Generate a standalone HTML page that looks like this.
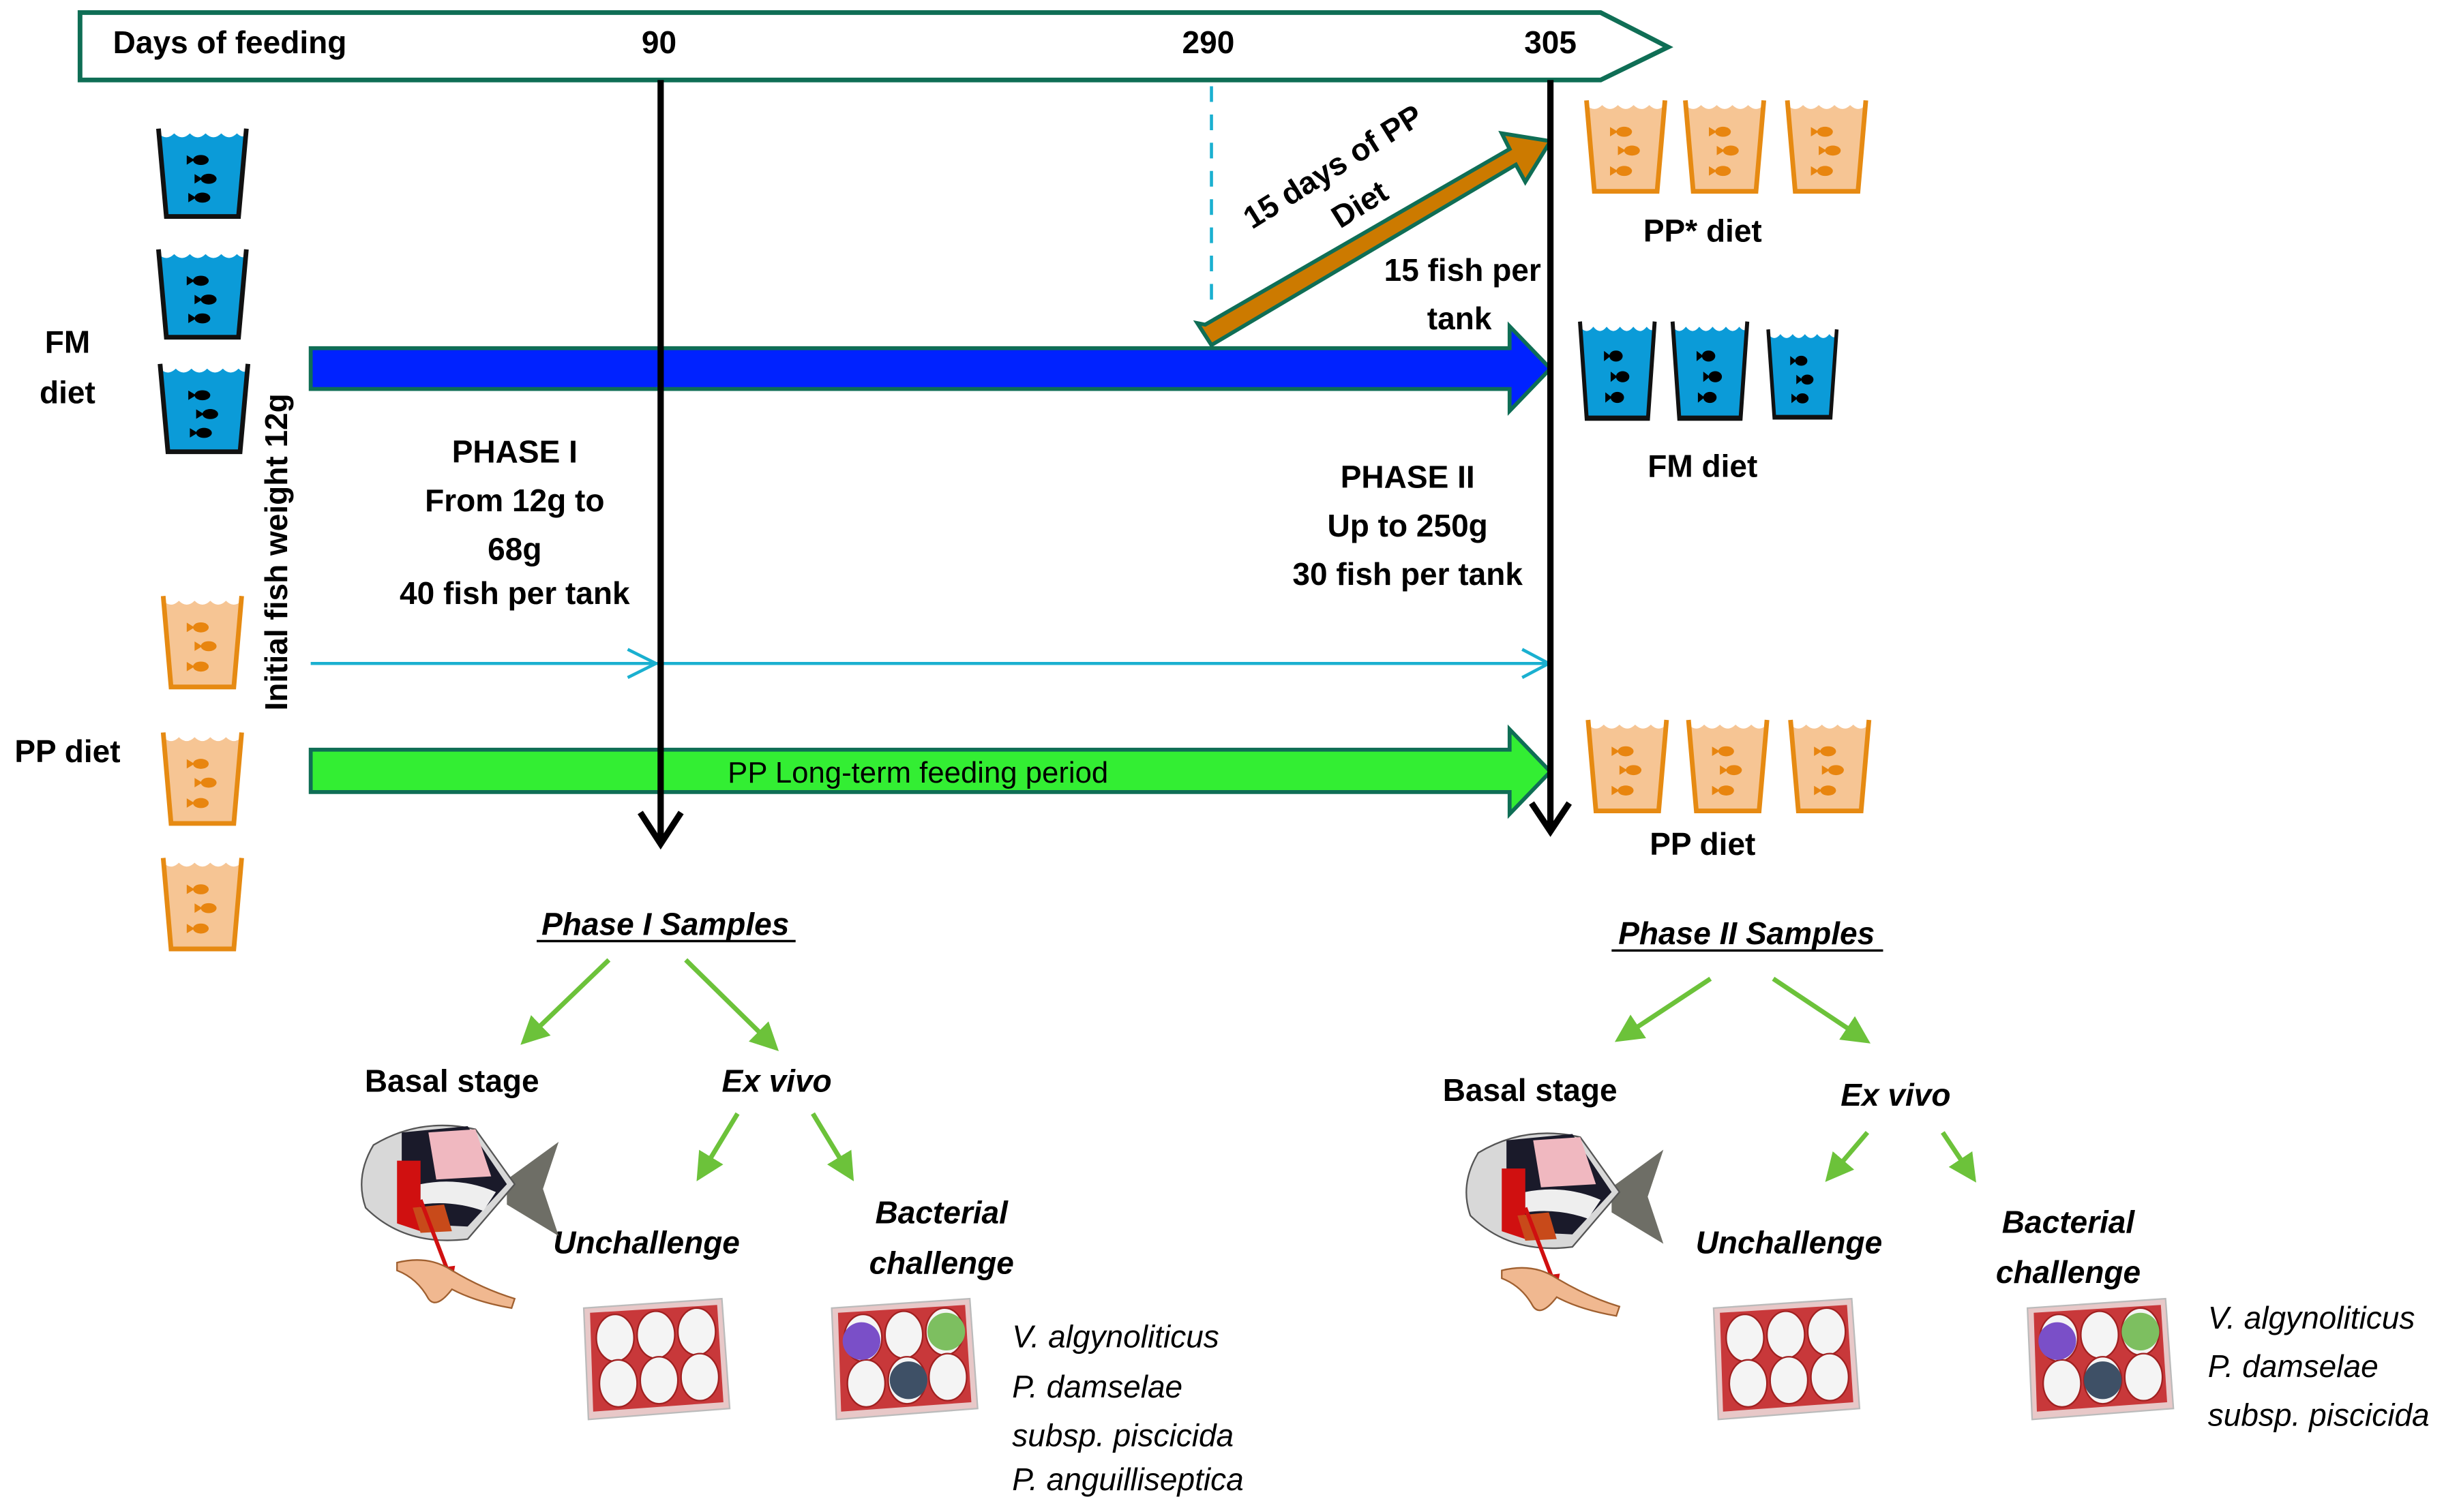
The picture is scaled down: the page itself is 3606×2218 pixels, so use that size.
<!DOCTYPE html>
<html><head><meta charset="utf-8"><style>html,body{margin:0;padding:0;background:#fff}svg{display:block}</style></head>
<body>
<svg width="3606" height="2218" viewBox="0 0 1567 964" preserveAspectRatio="none" xmlns="http://www.w3.org/2000/svg" font-family="Liberation Sans, sans-serif" font-weight="bold">
<defs>
<g id="fb"><ellipse cx="0" cy="0" rx="5" ry="3.2" fill="#000"/><polygon points="-4,0 -9,-3 -9,3" fill="#000"/></g>
<g id="fo"><ellipse cx="0" cy="0" rx="5" ry="3.2" fill="#e8850f"/><polygon points="-4,0 -9,-3 -9,3" fill="#e8850f"/></g>
<g id="tb">
<polygon points="1,3 57,3 52,56 6,56" fill="#0b9bd8"/>
<path d="M1,3 q5,5 10,0 q5,5 10,0 q5,5 10,0 q5,5 10,0 q5,5 10,0 q4,4 7,0 L57,0 L1,0Z" fill="#fff"/>
<polyline points="1,0 6,56 52,56 57,0" fill="none" stroke="#111" stroke-width="3"/>
<use href="#fb" x="28" y="20"/><use href="#fb" x="33" y="32"/><use href="#fb" x="29" y="44"/>
</g>
<g id="to">
<polygon points="1,3 51,3 46,58 6,58" fill="#f6c594"/>
<path d="M1,3 q5,5 10,0 q5,5 10,0 q5,5 10,0 q5,5 10,0 q5,5 10,0 L51,0 L1,0Z" fill="#fff"/>
<polyline points="1,0 6,58 46,58 51,0" fill="none" stroke="#e68a12" stroke-width="3"/>
<use href="#fo" x="25" y="20"/><use href="#fo" x="30" y="32"/><use href="#fo" x="25" y="45"/>
</g>
<g id="plate">
<polygon points="0,6 88,0 93,70 3,77" fill="#e8c8c8" stroke="#bbb"/>
<polygon points="4,9 85,4 89,66 6,72" fill="#c8383a"/>
<ellipse cx="20" cy="25" rx="12" ry="15" fill="#f4f4f4" stroke="#a02020"/>
<ellipse cx="46" cy="23" rx="12" ry="15" fill="#f4f4f4" stroke="#a02020"/>
<ellipse cx="72" cy="21" rx="12" ry="15" fill="#f4f4f4" stroke="#a02020"/>
<ellipse cx="22" cy="54" rx="12" ry="15" fill="#f4f4f4" stroke="#a02020"/>
<ellipse cx="48" cy="52" rx="12" ry="15" fill="#f4f4f4" stroke="#a02020"/>
<ellipse cx="74" cy="50" rx="12" ry="15" fill="#f4f4f4" stroke="#a02020"/>
</g>
<g id="fish">
<polygon points="95,42 128,18 118,48 128,78 95,58" fill="#6e6e66"/>
<path d="M10,20 Q40,2 75,10 L100,45 L70,80 Q30,85 5,60 Q-2,40 10,20Z" fill="#d8d8d8" stroke="#555"/>
<path d="M28,12 L70,8 L95,45 L70,72 L28,70Z" fill="#1a1a2a"/>
<path d="M45,12 L75,10 L85,40 L50,42Z" fill="#f0b8c0"/>
<path d="M25,30 L40,30 L40,75 L25,70Z" fill="#d01010"/>
<path d="M40,45 Q65,40 88,50 L80,62 Q60,55 40,58Z" fill="#eee"/>
<path d="M35,60 L55,58 L60,75 L40,76Z" fill="#c84a1a"/>
<line x1="40" y1="55" x2="58" y2="102" stroke="#d01010" stroke-width="2.5"/>
<polygon points="54,98 62,97 60,108" fill="#d01010"/>
<path d="M25,95 Q45,90 60,100 Q80,112 100,118 L98,124 Q75,120 60,112 Q50,125 45,118 Q38,105 25,100Z" fill="#f0b890" stroke="#a06030"/>
</g>
<marker id="ga" markerWidth="6" markerHeight="6" refX="4" refY="3" orient="auto" markerUnits="strokeWidth"><polygon points="0,0 6,3 0,6" fill="#6cc23a"/></marker>
</defs>

<polygon points="51,8 1020,8 1063,30 1020,51 51,51" fill="#fff" stroke="#0f6e55" stroke-width="3"/>
<text x="72" y="34" font-size="20">Days of feeding</text>
<text x="420" y="34" font-size="20" text-anchor="middle">90</text>
<text x="770" y="34" font-size="20" text-anchor="middle">290</text>
<text x="988" y="34" font-size="20" text-anchor="middle">305</text>

<line x1="772" y1="55" x2="772" y2="195" stroke="#1ab0d0" stroke-width="2" stroke-dasharray="10,8"/>

<polygon points="763,206 772,220 966,105 972,116 988,90 957,85 962,95 768,207" fill="#cc7a00" stroke="#0f6e55" stroke-width="2.5" stroke-linejoin="miter"/>

<polygon points="198,222 962,222 962,208 988,235 962,262 962,248 198,248" fill="#0022ff" stroke="#0f6e55" stroke-width="2.5"/>
<polygon points="198,478 962,478 962,465 988,492 962,519 962,505 198,505" fill="#33ee33" stroke="#0f6e55" stroke-width="2.5"/>
<text x="585" y="499" font-size="19" font-weight="normal" text-anchor="middle">PP Long-term feeding period</text>

<line x1="198" y1="423" x2="986" y2="423" stroke="#1ab0d0" stroke-width="2"/>
<polyline points="400,414 418,423 400,432" fill="none" stroke="#1ab0d0" stroke-width="2"/>
<polyline points="970,414 987,423 970,432" fill="none" stroke="#1ab0d0" stroke-width="2"/>

<line x1="421" y1="51" x2="421" y2="536" stroke="#000" stroke-width="4"/>
<polyline points="408,518 421,538 434,518" fill="none" stroke="#000" stroke-width="4"/>
<line x1="988" y1="51" x2="988" y2="528" stroke="#000" stroke-width="4"/>
<polyline points="976,512 988,530 1000,512" fill="none" stroke="#000" stroke-width="4"/>

<use href="#tb" x="100" y="82"/>
<use href="#tb" x="100" y="159"/>
<use href="#tb" x="101" y="232"/>
<use href="#to" x="103" y="380"/>
<use href="#to" x="103" y="467"/>
<use href="#to" x="103" y="547"/>
<use href="#to" x="1010" y="64"/>
<use href="#to" x="1073" y="64"/>
<use href="#to" x="1138" y="64"/>
<use href="#tb" transform="translate(1006,205) scale(0.85,1.1)"/>
<use href="#tb" transform="translate(1065,205) scale(0.85,1.1)"/>
<use href="#tb" transform="translate(1126,210) scale(0.78,1.0)"/>
<use href="#to" x="1011" y="459"/>
<use href="#to" x="1075" y="459"/>
<use href="#to" x="1140" y="459"/>

<g font-size="20">
<text x="43" y="225" text-anchor="middle">FM</text>
<text x="43" y="257" text-anchor="middle">diet</text>
<text x="43" y="486" text-anchor="middle">PP diet</text>
<text transform="translate(183,352) rotate(-90)" text-anchor="middle">Initial fish weight 12g</text>
<text x="328" y="295" text-anchor="middle">PHASE I</text>
<text x="328" y="326" text-anchor="middle">From 12g  to</text>
<text x="328" y="357" text-anchor="middle">68g</text>
<text x="328" y="385" text-anchor="middle">40 fish per tank</text>
<text x="897" y="311" text-anchor="middle">PHASE II</text>
<text x="897" y="342" text-anchor="middle">Up to 250g</text>
<text x="897" y="373" text-anchor="middle">30 fish per tank</text>
<text transform="translate(853,112) rotate(-32)" text-anchor="middle">15 days of PP</text>
<text transform="translate(870,136) rotate(-32)" text-anchor="middle">Diet</text>
<text x="932" y="179" text-anchor="middle">15 fish per</text>
<text x="930" y="210" text-anchor="middle">tank</text>
<text x="1085" y="154" text-anchor="middle">PP* diet</text>
<text x="1085" y="304" text-anchor="middle">FM diet</text>
<text x="1085" y="545" text-anchor="middle">PP diet</text>
</g>

<g font-size="20">
<text x="424" y="596" text-anchor="middle" font-style="italic">Phase I Samples</text>
<line x1="342" y1="600" x2="507" y2="600" stroke="#000" stroke-width="1.5"/>
<text x="1113" y="602" text-anchor="middle" font-style="italic">Phase II Samples</text>
<line x1="1027" y1="606" x2="1200" y2="606" stroke="#000" stroke-width="1.5"/>
<text x="288" y="696" text-anchor="middle">Basal stage</text>
<text x="495" y="696" text-anchor="middle" font-style="italic">Ex vivo</text>
<text x="975" y="702" text-anchor="middle">Basal stage</text>
<text x="1208" y="705" text-anchor="middle" font-style="italic">Ex vivo</text>
<text x="412" y="799" text-anchor="middle" font-style="italic">Unchallenge</text>
<text x="600" y="780" text-anchor="middle" font-style="italic">Bacterial</text>
<text x="600" y="812" text-anchor="middle" font-style="italic">challenge</text>
<text x="1140" y="799" text-anchor="middle" font-style="italic">Unchallenge</text>
<text x="1318" y="786" text-anchor="middle" font-style="italic">Bacterial</text>
<text x="1318" y="818" text-anchor="middle" font-style="italic">challenge</text>
</g>
<g font-size="20" font-weight="normal" font-style="italic">
<text x="645" y="859">V. algynoliticus</text>
<text x="645" y="891">P. damselae</text>
<text x="645" y="922">subsp. piscicida</text>
<text x="645" y="950">P. anguilliseptica</text>
<text x="1407" y="847">V. algynoliticus</text>
<text x="1407" y="878">P. damselae</text>
<text x="1407" y="909">subsp. piscicida</text>
</g>

<g stroke="#6cc23a" stroke-width="3" fill="none" marker-end="url(#ga)">
<line x1="388" y1="612" x2="336" y2="662"/>
<line x1="437" y1="612" x2="492" y2="666"/>
<line x1="1090" y1="624" x2="1034" y2="661"/>
<line x1="1130" y1="624" x2="1187" y2="662"/>
<line x1="470" y1="710" x2="447" y2="748"/>
<line x1="518" y1="710" x2="541" y2="748"/>
<line x1="1190" y1="722" x2="1167" y2="749"/>
<line x1="1238" y1="722" x2="1256" y2="749"/>
</g>

<use href="#fish" transform="translate(228,710)"/>
<use href="#fish" transform="translate(932,715)"/>

<use href="#plate" x="372" y="828"/>
<use href="#plate" x="530" y="828"/>
<circle cx="549" cy="855" r="12" fill="#7a4fc8"/>
<circle cx="603" cy="849" r="12" fill="#7dbf60"/>
<circle cx="579" cy="880" r="12" fill="#3e5066"/>
<use href="#plate" x="1092" y="828"/>
<use href="#plate" x="1292" y="828"/>
<circle cx="1311" cy="855" r="12" fill="#7a4fc8"/>
<circle cx="1364" cy="849" r="12" fill="#7dbf60"/>
<circle cx="1340" cy="880" r="12" fill="#3e5066"/>
</svg>
</body></html>
